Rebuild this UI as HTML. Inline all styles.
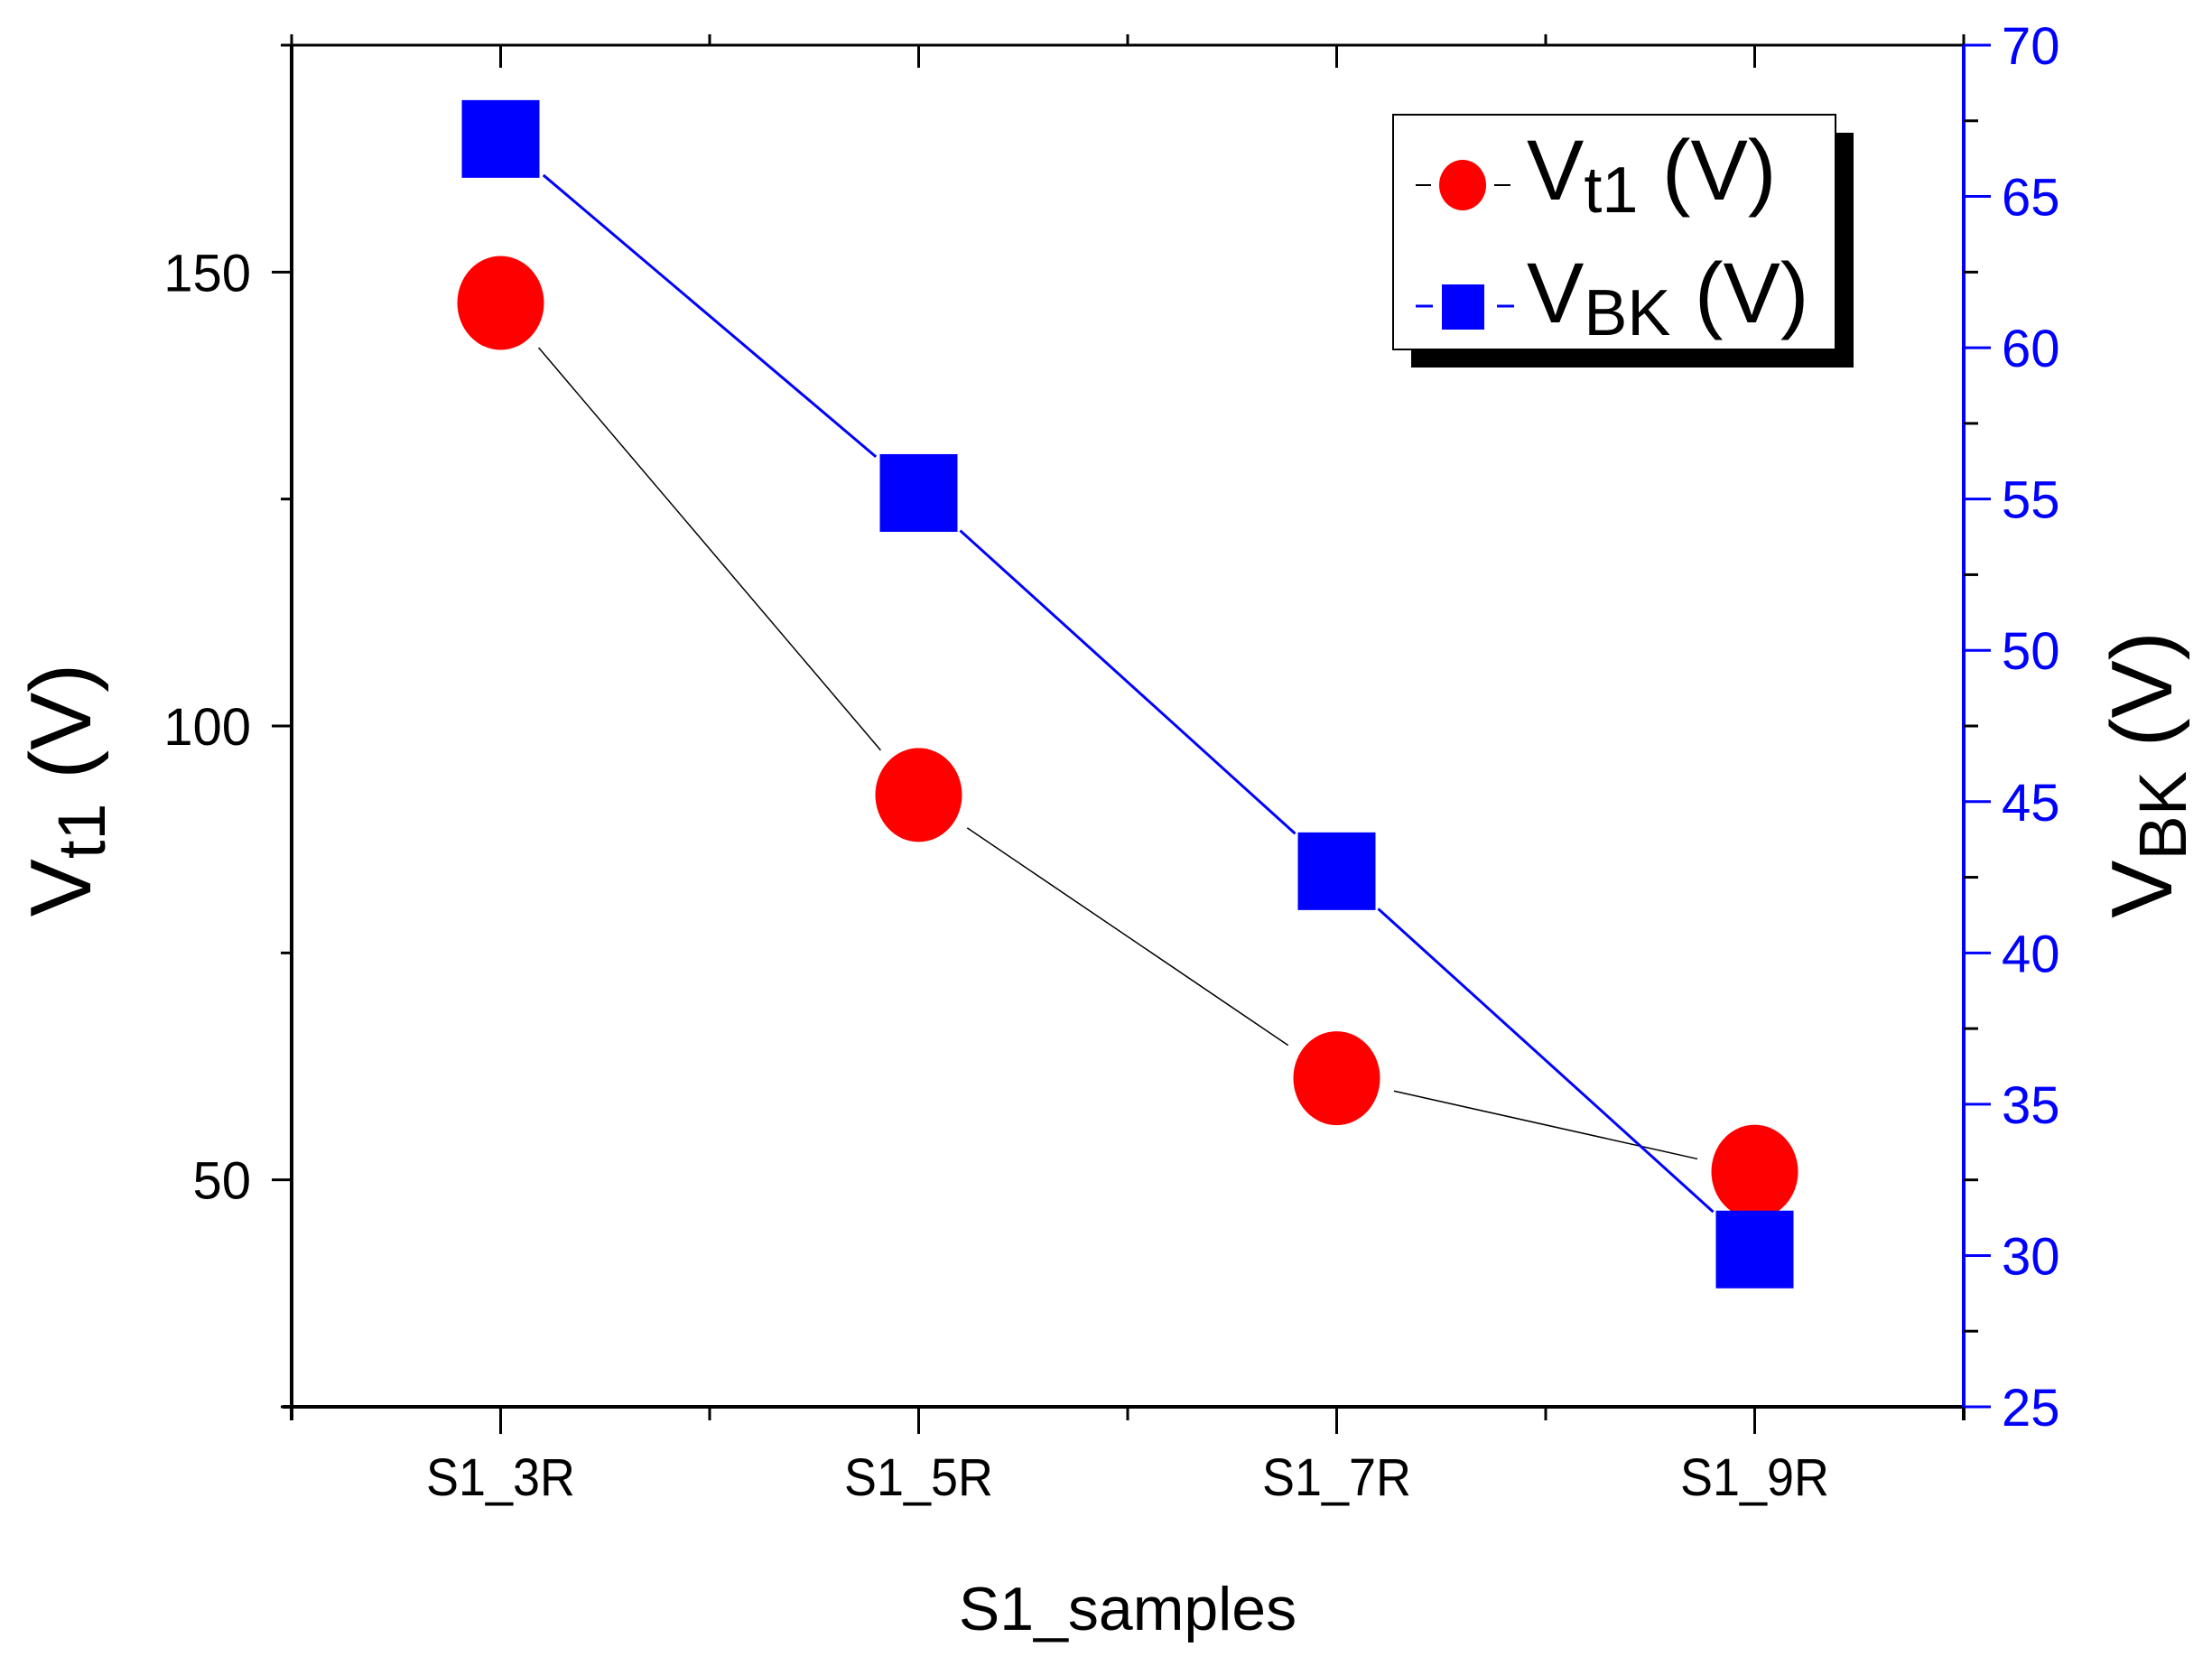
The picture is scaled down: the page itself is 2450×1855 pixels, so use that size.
<!DOCTYPE html>
<html><head><meta charset="utf-8"><style>
html,body{margin:0;padding:0;background:#fff;}
svg{display:block;font-family:"Liberation Sans",Arial,sans-serif;}
</style></head><body>
<svg id="chart" width="2450" height="1855" viewBox="0 0 2450 1855">
<g id="axes"></g>
<g id="series"></g>
<g id="legend">
  <rect x="1563" y="147" width="490" height="260" fill="#000"/>
  <rect x="1543" y="127" width="490" height="260" fill="#fff" stroke="#000" stroke-width="2"/>
  <g>
    <line x1="1568" y1="205" x2="1585" y2="205" stroke="#000" stroke-width="2"/>
    <line x1="1655" y1="205" x2="1673" y2="205" stroke="#000" stroke-width="2"/>
    <ellipse cx="1620" cy="205" rx="26" ry="28" fill="#ff0000"/>
    <text x="1691" y="221" font-size="95" fill="#000">V<tspan font-size="72" dy="14">t1</tspan><tspan dy="-14"> (V)</tspan></text>
  </g>
  <g>
    <line x1="1568" y1="339" x2="1587" y2="339" stroke="#0000ff" stroke-width="3"/>
    <line x1="1658" y1="339" x2="1677" y2="339" stroke="#0000ff" stroke-width="3"/>
    <rect x="1597" y="315" width="47" height="50" fill="#0000ff"/>
    <text x="1691" y="357" font-size="95" fill="#000">V<tspan font-size="72" dy="14">BK</tspan><tspan dy="-14"> (V)</tspan></text>
  </g>
</g>
</svg>
<script>
const categories = ["S1_3R","S1_5R","S1_7R","S1_9R"];
const vt1Values = [146.6, 92.4, 61.2, 50.9];
const vbkValues = [66.9, 55.2, 42.7, 30.2];
const leftTicks = [50, 100, 150];
const leftMinorTicks = [25, 75, 125, 175];
const rightTicks = [25, 30, 35, 40, 45, 50, 55, 60, 65, 70];

const NS = "http://www.w3.org/2000/svg";
const L = 323, R = 2175, T = 50, B = 1558;
function xScale(i){ return L + (R - L) * (i + 0.5) / categories.length; }
function yLeft(v){ return B - (v - 25) / (175 - 25) * (B - T); }
function yRight(v){ return B - (v - 25) / (70 - 25) * (B - T); }
function mk(parent, tag, attrs){ const e = document.createElementNS(NS, tag); for (const k in attrs) e.setAttribute(k, attrs[k]); parent.appendChild(e); return e; }

const axes = document.getElementById('axes');
let e;
e = mk(axes, 'line', {x1:L, y1:T, x2:R, y2:T, stroke:'#000', 'stroke-width':3});


e = mk(axes, 'line', {x1:L, y1:T, x2:L, y2:B+15, stroke:'#000', 'stroke-width':4});


e = mk(axes, 'line', {x1:L-10, y1:B, x2:R, y2:B, stroke:'#000', 'stroke-width':4});


e = mk(axes, 'line', {x1:R, y1:T, x2:R, y2:B, stroke:'#0000ff', 'stroke-width':4});


mk(axes, 'line', {x1:R, y1:B, x2:R, y2:B+15, stroke:'#000', 'stroke-width':4});

for (let i = 0; i <= categories.length; i++) {
  const x = L + (R - L) * i / categories.length;
  mk(axes, 'line', {x1:x, y1:B, x2:x, y2:B+15, stroke:'#000', 'stroke-width':3});
  mk(axes, 'line', {x1:x, y1:T, x2:x, y2:T-12, stroke:'#000', 'stroke-width':3});
}
categories.forEach((c, i) => {
  const x = xScale(i);
  mk(axes, 'line', {x1:x, y1:B, x2:x, y2:B+30, stroke:'#000', 'stroke-width':3});
  mk(axes, 'line', {x1:x, y1:T, x2:x, y2:T+25, stroke:'#000', 'stroke-width':3});
  const t = mk(axes, 'text', {x:x, y:B+98, 'font-size':58, 'text-anchor':'middle', fill:'#000', transform:`translate(${x} 0) scale(0.93 1) translate(${-x} 0)`});
  t.textContent = c;
  
  
});
leftTicks.forEach(v => {
  const y = yLeft(v);
  mk(axes, 'line', {x1:L, y1:y, x2:L-22, y2:y, stroke:'#000', 'stroke-width':3});
  const t = mk(axes, 'text', {x:L-45, y:y+21, 'font-size':58, 'text-anchor':'end', fill:'#000'});
  t.textContent = v;
  
  
});
leftMinorTicks.forEach(v => {
  const y = yLeft(v);
  mk(axes, 'line', {x1:L, y1:y, x2:L-12, y2:y, stroke:'#000', 'stroke-width':3});
});
rightTicks.forEach(v => {
  const y = yRight(v);
  mk(axes, 'line', {x1:R, y1:y, x2:R+30, y2:y, stroke:'#0000ff', 'stroke-width':3});
  const t = mk(axes, 'text', {x:R+42, y:y+21, 'font-size':58, fill:'#0000ff'});
  t.textContent = v;
  
  
  if (v < 70) {
    const m = yRight(v + 2.5);
    mk(axes, 'line', {x1:R, y1:m, x2:R+16, y2:m, stroke:'#000', 'stroke-width':3});
  }
});
let tt = mk(axes, 'text', {x:(L+R)/2, y:1805, 'font-size':68, 'text-anchor':'middle', fill:'#000'});
tt.textContent = 'S1_samples';


tt = mk(axes, 'text', {transform:'translate(100 875) rotate(-90)', 'font-size':96, 'text-anchor':'middle', fill:'#000'});
tt.innerHTML = 'V<tspan font-size="74" dy="16">t1</tspan><tspan dy="-16"> (V)</tspan>';


tt = mk(axes, 'text', {transform:'translate(2405 858) rotate(-90)', 'font-size':96, 'text-anchor':'middle', fill:'#000'});
tt.innerHTML = 'V<tspan font-size="74" dy="16">BK</tspan><tspan dy="-16"> (V)</tspan>';



const series = document.getElementById('series');
function gapLine(x1, y1, x2, y2, g, color, w) {
  const dx = x2 - x1, dy = y2 - y1, len = Math.hypot(dx, dy);
  const ux = dx / len, uy = dy / len;
  return mk(series, 'line', {x1:x1+ux*g, y1:y1+uy*g, x2:x2-ux*g, y2:y2-uy*g, stroke:color, 'stroke-width':w});
}
for (let i = 0; i < vt1Values.length - 1; i++) {
  const l = gapLine(xScale(i), yLeft(vt1Values[i]), xScale(i+1), yLeft(vt1Values[i+1]), 65, '#000', 1.5);
  
  
}
for (let i = 0; i < vbkValues.length - 1; i++) {
  const l = gapLine(xScale(i), yRight(vbkValues[i]), xScale(i+1), yRight(vbkValues[i+1]), 62, '#0000ff', 3);
  
  
}
vt1Values.forEach((v, i) => {
  const c = mk(series, 'ellipse', {cx:xScale(i), cy:yLeft(v), rx:48, ry:52, fill:'#ff0000'});
  
  
});
vbkValues.forEach((v, i) => {
  const s = mk(series, 'rect', {x:xScale(i)-43, y:yRight(v)-43, width:86, height:86, fill:'#0000ff'});
  
  
});
</script>
</body></html>
